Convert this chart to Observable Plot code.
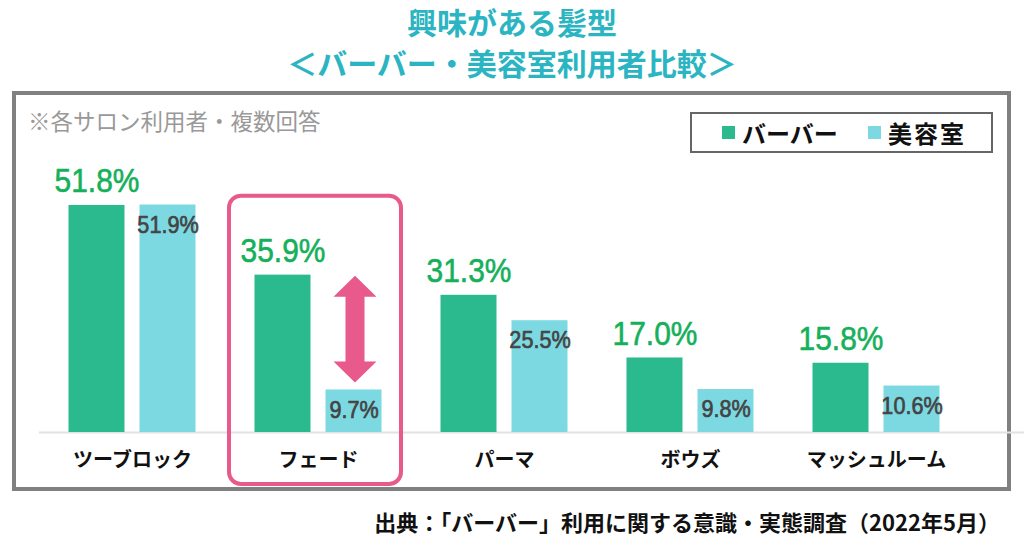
<!DOCTYPE html>
<html><head><meta charset="utf-8">
<script src="https://cdn.jsdelivr.net/npm/d3@7"></script>
<script src="https://cdn.jsdelivr.net/npm/@observablehq/plot@0.6"></script>
<style>
body{margin:0;background:#fff;font-family:"Noto Sans CJK JP",sans-serif;}
#wrap{position:relative;width:1024px;height:538px;overflow:hidden;background:#fff;}
#title{position:absolute;left:0;top:1px;width:1024px;text-align:center;color:#2BB5C2;font-weight:bold;font-size:30px;line-height:41px;}
#frame{position:absolute;left:12px;top:91px;width:991px;height:392px;border:4px solid #808080;}
#chart{position:absolute;left:0;top:85px;}
#note{position:absolute;left:28px;top:107px;font-size:22.5px;line-height:26px;color:#999;white-space:nowrap;}
#legend{position:absolute;left:690px;top:112px;width:299px;height:37px;border:2px solid #666;background:#fff;}
#legend .sw{position:absolute;top:12px;width:13px;height:13px;}
#legend .lb{position:absolute;top:0;line-height:37px;font-size:24px;font-weight:bold;color:#111;white-space:nowrap;}
#caption{position:absolute;right:24px;top:508px;font-weight:bold;font-size:22px;line-height:26px;color:#111;white-space:nowrap;}
</style></head>
<body><div id="wrap">
<div id="title"></div>
<div id="frame"></div>
<div id="chart"></div>
<div id="note"></div>
<div id="legend"></div>
<div id="caption"></div>
</div>
<script>
const titleLines = ["興味がある髪型", "＜バーバー・美容室利用者比較＞"];
const noteText = "※各サロン利用者・複数回答";
const captionText = "出典：「バーバー」利用に関する意識・実態調査（2022年5月）";
const categories = ["ツーブロック", "フェード", "パーマ", "ボウズ", "マッシュルーム"];
const seriesNames = ["バーバー", "美容室"];
const barberValues = [51.8, 35.9, 31.3, 17.0, 15.8];
const salonValues = [51.9, 9.7, 25.5, 9.8, 10.6];
const highlightCategory = "フェード";

const colBarber = "#2BBA8D", colSalon = "#7CD9E2", colPink = "#E8598C";

document.getElementById("title").innerHTML = titleLines.join("<br>");
document.getElementById("note").textContent = noteText;
document.getElementById("caption").textContent = captionText;

const legend = document.getElementById("legend");
const legendPos = [[30, 50], [176, 196]];
seriesNames.forEach((name, i) => {
  const sw = document.createElement("div");
  sw.className = "sw"; sw.style.left = legendPos[i][0] + "px";
  sw.style.background = i === 0 ? colBarber : colSalon;
  const lb = document.createElement("div");
  lb.className = "lb"; lb.style.left = legendPos[i][1] + "px"; lb.textContent = name;
  if (i === 1) lb.style.letterSpacing = "2px";
  legend.append(sw, lb);
});

const data = categories.map((c, i) => ({cat: c, barber: barberValues[i], salon: salonValues[i]}));
const numFont = "'Liberation Sans',Arial,sans-serif";

const arrowMark = (index, scales) => {
  const d = data.find(e => e.cat === highlightCategory);
  const cx = scales.x(d.cat) + 130;
  const ty = scales.y(d.barber) + 1, by = scales.y(d.salon) - 7;
  const hh = 21, hw = 21.5, sw = 9.5;
  const pts = [[cx,ty],[cx+hw,ty+hh],[cx+sw,ty+hh],[cx+sw,by-hh],[cx+hw,by-hh],[cx,by],
               [cx-hw,by-hh],[cx-sw,by-hh],[cx-sw,ty+hh],[cx-hw,ty+hh]];
  return d3.create("svg:path").attr("d", "M" + pts.map(p => p.join(",")).join("L") + "Z")
    .attr("fill", colPink).node();
};

const chart = Plot.plot({
  width: 1024, height: 420,
  marginLeft: 39, marginRight: 55, marginTop: 84, marginBottom: 73,
  style: {background: "transparent", fontFamily: "'Noto Sans CJK JP',sans-serif"},
  x: {domain: categories, padding: 0, axis: null},
  y: {domain: [0, 60], axis: null},
  marks: [
    Plot.ruleY([0], {stroke: "#e2e2e2", strokeWidth: 2, insetRight: -55}),
    Plot.barY(data, {x: "cat", y: "barber", fill: colBarber, insetLeft: 29.5, insetRight: 100.5}),
    Plot.barY(data, {x: "cat", y: "salon", fill: colSalon, insetLeft: 100.5, insetRight: 29.5}),
    Plot.text(data, {x: "cat", y: "barber", text: d => d.barber.toFixed(1) + "%", dx: -35.5, dy: -24,
      fill: "#14B05A", stroke: "#14B05A", strokeWidth: 0.6, fontSize: 34, fontFamily: numFont}),
    Plot.text(data, {x: "cat", y: "salon", text: d => d.salon.toFixed(1) + "%", dx: 35.5, dy: 20,
      fill: "#444", stroke: "#444", strokeWidth: 0.7, fontSize: 24, fontFamily: numFont}),
    Plot.text(data, {x: "cat", y: 0, text: "cat", dy: 28, fontSize: 20, fontWeight: "bold", fill: "#111"}),
    Plot.barY(data.filter(d => d.cat === highlightCategory), {x: "cat", y: "barber", fill: "none",
      stroke: colPink, strokeWidth: 4, rx: 12, insetLeft: 4, insetRight: 10, insetTop: -79, insetBottom: -52}),
    arrowMark
  ]
});
document.getElementById("chart").append(chart);
// condense the percentage labels horizontally (the reference uses a narrow face)
d3.select(chart).selectAll("text").each(function() {
  const t = this.textContent;
  if (t.endsWith("%")) {
    const w = this.getComputedTextLength();
    const big = this.getAttribute("font-size") === "34" || (this.parentNode && this.parentNode.getAttribute("font-size") === "34");
    this.setAttribute("textLength", (w * (big ? 0.88 : 0.9)).toFixed(1));
    this.setAttribute("lengthAdjust", "spacingAndGlyphs");
  }
});
</script>
</body></html>
